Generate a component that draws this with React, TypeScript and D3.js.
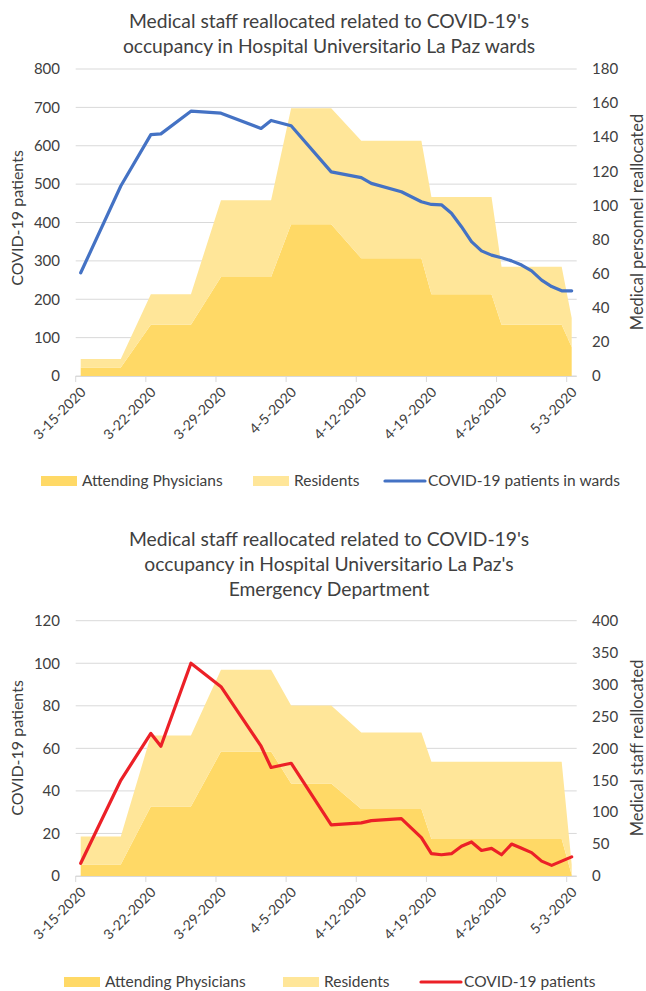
import { useEffect, useRef } from 'react';
import * as d3 from 'd3';

// ── Colours ──
const ATTENDING_COLOR = '#FFD966';
const RESIDENT_COLOR = '#FFE699';
const WARD_COLOR = '#4472C4';
const ED_COLOR = '#EC2027';
const GRID_COLOR = '#D9D9D9';
const TEXT_COLOR = '#404040';
const FONT = 'Lato, "Open Sans", sans-serif';

// ── Data ──
const TICK_DATES = ['3-15-2020', '3-22-2020', '3-29-2020', '4-5-2020', '4-12-2020', '4-19-2020', '4-26-2020', '5-3-2020'];

// wards chart
const WARD_DATES = [
  '3-15-2020', '3-19-2020', '3-22-2020', '3-23-2020', '3-26-2020', '3-29-2020', '4-2-2020', '4-3-2020',
  '4-5-2020', '4-9-2020', '4-12-2020', '4-13-2020', '4-16-2020', '4-18-2020', '4-19-2020', '4-20-2020',
  '4-21-2020', '4-22-2020', '4-23-2020', '4-24-2020', '4-25-2020', '4-26-2020', '4-27-2020', '4-28-2020',
  '4-29-2020', '4-30-2020', '5-1-2020', '5-2-2020', '5-3-2020',
];
const WARD_PATIENTS = [
  269, 495, 629, 631, 690, 685, 645, 666,
  652, 532, 517, 502, 480, 454, 447, 446,
  424, 389, 350, 326, 315, 308, 300, 289,
  274, 250, 233, 222, 222,
];
const WARD_STAFF_DATES = [
  '3-15-2020', '3-19-2020', '3-22-2020', '3-26-2020', '3-29-2020', '4-3-2020', '4-5-2020', '4-9-2020',
  '4-12-2020', '4-18-2020', '4-19-2020', '4-25-2020', '4-26-2020', '5-2-2020', '5-3-2020',
];
const WARD_ATTENDING = [5, 5, 30, 30, 58, 58, 89, 89, 69, 69, 48, 48, 30, 30, 17];
const WARD_RESIDENTS = [5, 5, 18, 18, 45, 45, 68, 68, 69, 69, 57, 57, 34, 34, 17];

// emergency department chart
const ED_DATES = WARD_DATES;
const ED_PATIENTS = [
  6, 45, 67, 61, 100, 89, 61, 51,
  53, 24, 25, 26, 27, 18, 10.5, 10,
  10.5, 14, 16, 12, 13, 10, 15, 13,
  11, 7, 5, 7, 9,
];
const ED_STAFF_DATES = [
  '3-15-2020', '3-19-2020', '3-22-2020', '3-26-2020', '3-29-2020', '4-3-2020', '4-5-2020', '4-9-2020',
  '4-12-2020', '4-18-2020', '4-19-2020', '5-2-2020', '5-3-2020',
];
const ED_ATTENDING = [18, 18, 109, 109, 195, 195, 145, 145, 105, 105, 58, 58, 2];
const ED_RESIDENTS = [44, 44, 111, 111, 128, 128, 122, 122, 120, 120, 121, 121, 16];

const parseDate = d3.utcParse('%m-%d-%Y');
const HALF_DAY = 12 * 3600 * 1000;

interface ChartSpec {
  title: string[];
  titleY: number;
  plotTop: number;
  plotBottom: number;
  leftMax: number;
  leftStep: number;
  rightMax: number;
  rightStep: number;
  leftTitle: string;
  leftTitleY: number;
  rightTitle: string;
  rightTitleY: number;
  legendY: number;
  legendX: number[];
  lineLabel: string;
  lineColor: string;
  lineDates: string[];
  lineValues: number[];
  staffDates: string[];
  attending: number[];
  residents: number[];
}

const PLOT_LEFT = 75.7;
const PLOT_RIGHT = 576.7;

const CHARTS: ChartSpec[] = [
  {
    title: ["Medical staff reallocated related to COVID-19's", 'occupancy in Hospital Universitario La Paz wards'],
    titleY: 28,
    plotTop: 69,
    plotBottom: 376,
    leftMax: 800,
    leftStep: 100,
    rightMax: 180,
    rightStep: 20,
    leftTitle: 'COVID-19 patients',
    leftTitleY: 218,
    rightTitle: 'Medical personnel reallocated',
    rightTitleY: 222,
    legendY: 481,
    legendX: [41, 253, 385],
    lineLabel: 'COVID-19 patients in wards',
    lineColor: WARD_COLOR,
    lineDates: WARD_DATES,
    lineValues: WARD_PATIENTS,
    staffDates: WARD_STAFF_DATES,
    attending: WARD_ATTENDING,
    residents: WARD_RESIDENTS,
  },
  {
    title: ["Medical staff reallocated related to COVID-19's", "occupancy in Hospital Universitario La Paz's", 'Emergency Department'],
    titleY: 546,
    plotTop: 620.7,
    plotBottom: 876,
    leftMax: 120,
    leftStep: 20,
    rightMax: 400,
    rightStep: 50,
    leftTitle: 'COVID-19 patients',
    leftTitleY: 748,
    rightTitle: 'Medical staff reallocated',
    rightTitleY: 748,
    legendY: 982,
    legendX: [64, 283, 421],
    lineLabel: 'COVID-19 patients',
    lineColor: ED_COLOR,
    lineDates: ED_DATES,
    lineValues: ED_PATIENTS,
    staffDates: ED_STAFF_DATES,
    attending: ED_ATTENDING,
    residents: ED_RESIDENTS,
  },
];

function drawChart(root: d3.Selection<SVGGElement, unknown, null, undefined>, spec: ChartSpec) {
  const first = parseDate(TICK_DATES[0])!;
  const last = parseDate(TICK_DATES[TICK_DATES.length - 1])!;
  // one slot per day, points sit in the middle of their slot
  const x = d3
    .scaleUtc()
    .domain([new Date(+first - HALF_DAY), new Date(+last + HALF_DAY)])
    .range([PLOT_LEFT, PLOT_RIGHT]);
  const yL = d3.scaleLinear().domain([0, spec.leftMax]).range([spec.plotBottom, spec.plotTop]);
  const yR = d3.scaleLinear().domain([0, spec.rightMax]).range([spec.plotBottom, spec.plotTop]);

  // title
  root
    .append('text')
    .attr('x', 329)
    .attr('y', spec.titleY)
    .attr('text-anchor', 'middle')
    .attr('font-size', 19.3)
    .attr('fill', TEXT_COLOR)
    .selectAll('tspan')
    .data(spec.title)
    .join('tspan')
    .attr('x', 329)
    .attr('dy', (_, i) => (i === 0 ? 0 : 25))
    .text((d) => d);

  // gridlines (left axis)
  const leftTicks = d3.range(0, spec.leftMax + 0.001, spec.leftStep);
  root
    .selectAll('.grid')
    .data(leftTicks)
    .join('line')
    .attr('x1', PLOT_LEFT)
    .attr('x2', PLOT_RIGHT)
    .attr('y1', (d) => yL(d))
    .attr('y2', (d) => yL(d))
    .attr('stroke', GRID_COLOR)
    .attr('stroke-width', 1);

  // stacked areas
  const rows = spec.staffDates.map((d, i) => ({
    date: parseDate(d)!,
    attending: spec.attending[i],
    residents: spec.residents[i],
  }));
  const stacked = d3.stack<(typeof rows)[number]>().keys(['attending', 'residents'])(rows);
  const area = d3
    .area<d3.SeriesPoint<(typeof rows)[number]>>()
    .x((d) => x(d.data.date))
    .y0((d) => yR(d[0]))
    .y1((d) => yR(d[1]));
  root
    .selectAll('.area')
    .data(stacked)
    .join('path')
    .attr('d', (d) => area(d))
    .attr('fill', (_, i) => (i === 0 ? ATTENDING_COLOR : RESIDENT_COLOR));

  // x axis line + ticks
  root
    .append('line')
    .attr('x1', PLOT_LEFT)
    .attr('x2', PLOT_RIGHT)
    .attr('y1', spec.plotBottom + 0.5)
    .attr('y2', spec.plotBottom + 0.5)
    .attr('stroke', GRID_COLOR);
  const tickDates = TICK_DATES.map((d) => parseDate(d)!);
  root
    .selectAll('.xtick')
    .data(tickDates)
    .join('line')
    .attr('x1', (d) => x(d) - 5)
    .attr('x2', (d) => x(d) - 5)
    .attr('y1', spec.plotBottom)
    .attr('y2', spec.plotBottom + 6)
    .attr('stroke', GRID_COLOR);
  root
    .selectAll('.xlabel')
    .data(tickDates)
    .join('text')
    .attr('transform', (d) => `translate(${x(d) + 6},${spec.plotBottom + 17}) rotate(-45)`)
    .attr('text-anchor', 'end')
    .attr('font-size', 14)
    .attr('fill', TEXT_COLOR)
    .text((_, i) => TICK_DATES[i]);

  // line series
  const line = d3
    .line<number>()
    .x((_, i) => x(parseDate(spec.lineDates[i])!))
    .y((d) => yL(d));
  root
    .append('path')
    .attr('d', line(spec.lineValues))
    .attr('fill', 'none')
    .attr('stroke', spec.lineColor)
    .attr('stroke-width', 3.2)
    .attr('stroke-linejoin', 'round')
    .attr('stroke-linecap', 'round');

  // left axis labels
  root
    .selectAll('.ylabel')
    .data(leftTicks)
    .join('text')
    .attr('x', 60)
    .attr('y', (d) => yL(d))
    .attr('dy', '0.35em')
    .attr('text-anchor', 'end')
    .attr('font-size', 15)
    .attr('fill', TEXT_COLOR)
    .text((d) => d3.format('d')(d));

  // right axis labels
  const rightTicks = d3.range(0, spec.rightMax + 0.001, spec.rightStep);
  root
    .selectAll('.rlabel')
    .data(rightTicks)
    .join('text')
    .attr('x', 592)
    .attr('y', (d) => yR(d))
    .attr('dy', '0.35em')
    .attr('text-anchor', 'start')
    .attr('font-size', 15)
    .attr('fill', TEXT_COLOR)
    .text((d) => d3.format('d')(d));

  // axis titles
  root
    .append('text')
    .attr('transform', `translate(23,${spec.leftTitleY}) rotate(-90)`)
    .attr('text-anchor', 'middle')
    .attr('font-size', 16)
    .attr('fill', TEXT_COLOR)
    .text(spec.leftTitle);
  root
    .append('text')
    .attr('transform', `translate(643,${spec.rightTitleY}) rotate(-90)`)
    .attr('text-anchor', 'middle')
    .attr('font-size', 16.5)
    .attr('fill', TEXT_COLOR)
    .text(spec.rightTitle);

  // legend
  const [lx1, lx2, lx3] = spec.legendX;
  const ly = spec.legendY;
  root.append('rect').attr('x', lx1).attr('y', ly - 5).attr('width', 36).attr('height', 10).attr('fill', ATTENDING_COLOR);
  root.append('rect').attr('x', lx2).attr('y', ly - 5).attr('width', 36).attr('height', 10).attr('fill', RESIDENT_COLOR);
  root
    .append('line')
    .attr('x1', lx3)
    .attr('x2', lx3 + 40)
    .attr('y1', ly)
    .attr('y2', ly)
    .attr('stroke', spec.lineColor)
    .attr('stroke-width', 3.2)
    .attr('stroke-linecap', 'round');
  const labels = ['Attending Physicians', 'Residents', spec.lineLabel];
  const labelX = [lx1 + 41, lx2 + 41, lx3 + 43];
  root
    .selectAll('.legend')
    .data(labels)
    .join('text')
    .attr('x', (_, i) => labelX[i])
    .attr('y', ly)
    .attr('dy', '0.35em')
    .attr('font-size', 15.5)
    .attr('fill', TEXT_COLOR)
    .text((d) => d);
}

export default function App() {
  const svgRef = useRef<SVGSVGElement>(null);

  useEffect(() => {
    const svgEl = svgRef.current;
    if (!svgEl) return;
    const svg = d3.select(svgEl);
    svg.selectAll('*').remove();
    CHARTS.forEach((spec) => drawChart(svg.append('g'), spec));
    return () => {
      svg.selectAll('*').remove();
    };
  }, []);

  return (
    <div style={{ position: 'absolute', left: 0, top: 0, background: '#fff' }}>
      <svg ref={svgRef} width={646} height={991} style={{ display: 'block', fontFamily: FONT }} />
    </div>
  );
}
